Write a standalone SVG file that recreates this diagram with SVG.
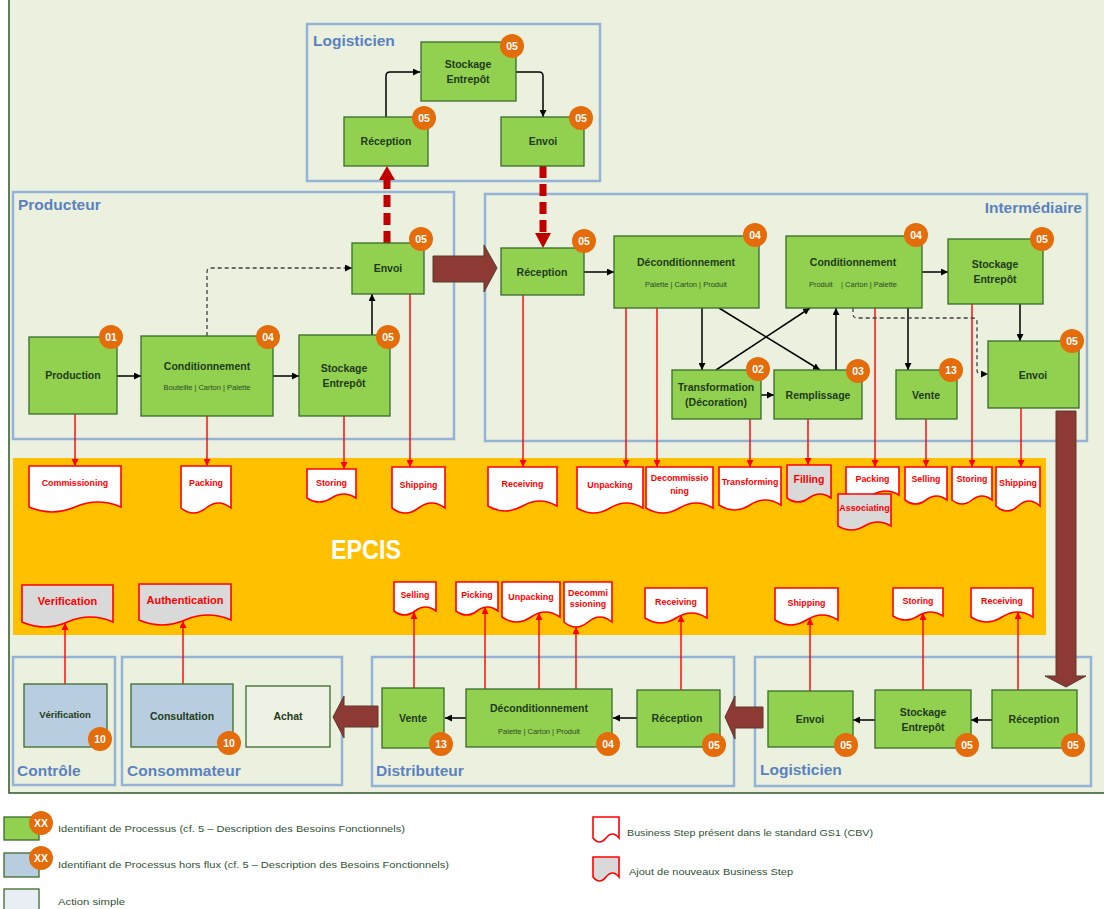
<svg xmlns="http://www.w3.org/2000/svg" width="1104" height="909" viewBox="0 0 1104 909">
<style>
.bg{fill:#EBF1DE;stroke:#2F5427;stroke-width:1.5}
.lane{fill:none;stroke:#95B3D7;stroke-width:2.5}
.lt{font-family:'Liberation Sans',Arial,sans-serif;font-weight:bold;font-size:15.5px;fill:#5B82BF}
.n{fill:#92D050;stroke:#3B6A2B;stroke-width:1.3}
.nb{fill:#B9CDE0;stroke:#3B6A2B;stroke-width:1.3}
.na{fill:#EDF2E4;stroke:#3B6A2B;stroke-width:1.3}
.t{font-family:'Liberation Sans',Arial,sans-serif;font-weight:bold;font-size:10.5px;fill:#1F3B18;text-anchor:middle}
.s{font-family:'Liberation Sans',Arial,sans-serif;font-size:7.5px;fill:#2C4A23;text-anchor:middle}
.bc{fill:#E46C0A}
.bt{font-family:'Liberation Sans',Arial,sans-serif;font-weight:bold;font-size:10.5px;fill:#fff;text-anchor:middle}
.doc{fill:#fff;stroke:#FF0000;stroke-width:1.6}
.docg{fill:#D9D9D9;stroke:#FF0000;stroke-width:1.6}
.dt{font-family:'Liberation Sans',Arial,sans-serif;font-weight:bold;font-size:8.9px;fill:#FF0000;text-anchor:middle}
.ar{stroke:#000;stroke-width:1.5;fill:none;marker-end:url(#ah)}
.ad{stroke:#404040;stroke-width:1.3;fill:none;stroke-dasharray:4 3;marker-end:url(#ah)}
.rl{stroke:#FF0000;stroke-width:1.4;fill:none;marker-end:url(#ra)}
.rd{stroke:#C00000;stroke-width:7;stroke-dasharray:12 6;fill:none}
.rh{fill:#C00000}
.br{fill:#8E3A34;stroke:#5A3A2C;stroke-width:1}
.lg{font-family:'Liberation Sans',Arial,sans-serif;font-size:9.5px;fill:#2F5233}
</style>
<defs>
<marker id="ah" viewBox="0 0 10 10" refX="10" refY="5" markerWidth="7" markerHeight="7" markerUnits="userSpaceOnUse" orient="auto"><path d="M0,0 L10,5 L0,10 z" fill="#000"/></marker>
<marker id="ra" viewBox="0 0 10 10" refX="10" refY="5" markerWidth="7" markerHeight="7" markerUnits="userSpaceOnUse" orient="auto"><path d="M0,0 L10,5 L0,10 z" fill="#FF0000"/></marker>
</defs>
<rect x="0" y="0" width="1104" height="909" fill="#fff"/>
<rect class="bg" x="9" y="-2" width="1100" height="795"/>

<g id="lanes">
<rect class="lane" x="307" y="24" width="293" height="157"/>
<text class="lt" x="313" y="46">Logisticien</text>
<rect class="lane" x="13" y="192" width="441" height="247"/>
<text class="lt" x="18" y="210">Producteur</text>
<rect class="lane" x="485" y="194" width="602" height="247"/>
<text class="lt" x="1082" y="213" text-anchor="end">Intermédiaire</text>
<rect class="lane" x="13" y="657" width="102" height="128"/>
<text class="lt" x="17" y="776">Contrôle</text>
<rect class="lane" x="122" y="657" width="220" height="128"/>
<text class="lt" x="127" y="776">Consommateur</text>
<rect class="lane" x="372" y="657" width="362" height="129"/>
<text class="lt" x="376" y="776">Distributeur</text>
<rect class="lane" x="755" y="657" width="336" height="129"/>
<text class="lt" x="760" y="775">Logisticien</text>
</g>

<g id="epcis">
<rect x="13" y="458" width="1033" height="177" fill="#FFC000"/>
<text x="366" y="559" font-family="'Liberation Sans',Arial,sans-serif" font-weight="bold" font-size="27" fill="#fff" text-anchor="middle" textLength="70" lengthAdjust="spacingAndGlyphs">EPCIS</text>
</g>

<g id="business-steps">
<path class="doc" d="M29,466 H121 V507 Q98,497 75,507 T29,507 Z"/><text class="dt" x="75" y="486">Commissioning</text>
<path class="doc" d="M181,466 H231 V508 Q218.5,498 206,508 T181,508 Z"/><text class="dt" x="206" y="486">Packing</text>
<path class="doc" d="M307,469 H356 V498 Q343.75,490 331.5,498 T307,498 Z"/><text class="dt" x="331.5" y="486">Storing</text>
<path class="doc" d="M392,467 H445 V508 Q431.75,498 418.5,508 T392,508 Z"/><text class="dt" x="418.5" y="488">Shipping</text>
<path class="doc" d="M488,467 H557 V506 Q539.75,496 522.5,506 T488,506 Z"/><text class="dt" x="522.5" y="487">Receiving</text>
<path class="doc" d="M577,467 H643 V508 Q626.5,498 610,508 T577,508 Z"/><text class="dt" x="610" y="488">Unpacking</text>
<path class="doc" d="M646,467 H713 V508 Q696.25,498 679.5,508 T646,508 Z"/><text class="dt" x="679.5" y="481">Decommissio</text><text class="dt" x="679.5" y="494">ning</text>
<path class="doc" d="M719,467 H781 V505 Q765.5,495 750,505 T719,505 Z"/><text class="dt" x="750" y="485">Transforming</text>
<path class="docg" d="M787,465 H831 V498 Q820,490 809,498 T787,498 Z"/><text class="dt" x="809" y="483" style="font-size:10.5px">Filling</text>
<path class="doc" d="M846,467 H899 V495 Q885.75,487 872.5,495 T846,495 Z"/><text class="dt" x="872.5" y="482">Packing</text>
<path class="docg" d="M838,494 H891 V526 Q877.75,518 864.5,526 T838,526 Z"/><text class="dt" x="864.5" y="511">Associating</text>
<path class="doc" d="M905,467 H947 V500 Q936.5,492 926,500 T905,500 Z"/><text class="dt" x="926" y="482">Selling</text>
<path class="doc" d="M952,467 H992 V500 Q982,492 972,500 T952,500 Z"/><text class="dt" x="972" y="482">Storing</text>
<path class="doc" d="M996,467 H1040 V506 Q1029,496 1018,506 T996,506 Z"/><text class="dt" x="1018" y="486">Shipping</text>

<path class="docg" d="M22,585 H113 V622 Q90.25,612 67.5,622 T22,622 Z"/><text class="dt" x="67.5" y="605" style="font-size:11px">Verification</text>
<path class="docg" d="M139,584 H231 V620 Q208,610 185,620 T139,620 Z"/><text class="dt" x="185" y="604" style="font-size:11px">Authentication</text>
<path class="doc" d="M394,582 H436 V611 Q425.5,603 415,611 T394,611 Z"/><text class="dt" x="415" y="598">Selling</text>
<path class="doc" d="M456,582 H498 V611 Q487.5,603 477,611 T456,611 Z"/><text class="dt" x="477" y="598">Picking</text>
<path class="doc" d="M502,582 H560 V617 Q545.5,607 531,617 T502,617 Z"/><text class="dt" x="531" y="600">Unpacking</text>
<path class="doc" d="M564,582 H612 V622 Q600,612 588,622 T564,622 Z"/><text class="dt" x="588" y="596">Decommi</text><text class="dt" x="588" y="607">ssioning</text>
<path class="doc" d="M645,588 H707 V618 Q691.5,608 676,618 T645,618 Z"/><text class="dt" x="676" y="605">Receiving</text>
<path class="doc" d="M775,588 H838 V620 Q822.25,610 806.5,620 T775,620 Z"/><text class="dt" x="806.5" y="606">Shipping</text>
<path class="doc" d="M893,588 H943 V616 Q930.5,608 918,616 T893,616 Z"/><text class="dt" x="918" y="604">Storing</text>
<path class="doc" d="M971,588 H1033 V617 Q1017.5,607 1002,617 T971,617 Z"/><text class="dt" x="1002" y="604">Receiving</text>
</g>

<g id="connectors">
<path class="rl" d="M75,414 V466"/>
<path class="rl" d="M207,416 V466"/>
<path class="rl" d="M344,416 V469"/>
<path class="rl" d="M410,294 V467"/>
<path class="rl" d="M523,295 V467"/>
<path class="rl" d="M626,308 V467"/>
<path class="rl" d="M657,308 V467"/>
<path class="rl" d="M750,419 V467"/>
<path class="rl" d="M808,419 V465"/>
<path class="rl" d="M875,308 V467"/>
<path class="rl" d="M926,419 V467"/>
<path class="rl" d="M972,304 V467"/>
<path class="rl" d="M1021,408 V467"/>
<path class="rl" d="M65,684 V623"/>
<path class="rl" d="M183,684 V621"/>
<path class="rl" d="M414,688 V612"/>
<path class="rl" d="M485,689 V607"/>
<path class="rl" d="M539,689 V613"/>
<path class="rl" d="M576,689 V627"/>
<path class="rl" d="M681,690 V615"/>
<path class="rl" d="M810,691 V618"/>
<path class="rl" d="M923,690 V613"/>
<path class="rl" d="M1018,690 V612"/>

<path class="ar" d="M386,117 V76 Q386,72 390,72 H420"/>
<path class="ar" d="M515,72 H539 Q543,72 543,76 V117"/>
<path class="ar" d="M117,376 H141"/>
<path class="ar" d="M273,376 H299"/>
<path class="ar" d="M372,335 V294"/>
<path class="ad" d="M207,336 V272 Q207,268 211,268 H352"/>
<path class="ar" d="M584,272 H614"/>
<path class="ar" d="M702,308 V370"/>
<path class="ar" d="M719,308 L820,370"/>
<path class="ar" d="M716,370 L810,308"/>
<path class="ar" d="M761,395 H774"/>
<path class="ar" d="M836,370 V308"/>
<path class="ar" d="M921,272 H948"/>
<path class="ar" d="M908,308 V370"/>
<path class="ar" d="M1020,304 V341"/>
<path class="ad" d="M853,308 V314 Q853,318 857,318 H973 Q977,318 977,322 V370 Q977,374 981,374 H988"/>
<path class="ar" d="M466,718 H445"/>
<path class="ar" d="M637,718 H613"/>
<path class="ar" d="M875,720 H853"/>
<path class="ar" d="M992,720 H971"/>

<path class="rd" d="M387,243 V180"/>
<polygon class="rh" points="379,180 395,180 387,166"/>
<path class="rd" d="M543,166 V233"/>
<polygon class="rh" points="535,233 551,233 543,248"/>

<polygon class="br" points="433,256 484,256 484,245 497,268 484,292 484,282 433,282"/>
<polygon class="br" points="1056,411 1076,411 1076,676 1086,676 1066,687 1045,676 1056,676"/>
<polygon class="br" points="378,706 344,706 344,696 333,717 344,738 344,727 378,727"/>
<polygon class="br" points="763,707 735,707 735,696 725,717 735,739 735,728 763,728"/>
</g>

<g id="log-stockage"><rect class="n" x="421" y="42" width="95" height="59"/><text class="t" x="468" y="68">Stockage</text><text class="t" x="468" y="83">Entrepôt</text><circle class="bc" cx="512" cy="46" r="12"/><text class="bt" x="512" y="50">05</text></g>
<g id="log-reception"><rect class="n" x="344" y="117" width="84" height="49"/><text class="t" x="386" y="145">Réception</text><circle class="bc" cx="424" cy="118" r="12"/><text class="bt" x="424" y="122">05</text></g>
<g id="log-envoi"><rect class="n" x="501" y="117" width="83" height="49"/><text class="t" x="543" y="145">Envoi</text><circle class="bc" cx="581" cy="118" r="12"/><text class="bt" x="581" y="122">05</text></g>

<g id="prod-production"><rect class="n" x="29" y="337" width="88" height="77"/><text class="t" x="73" y="379">Production</text><circle class="bc" cx="111" cy="337" r="12"/><text class="bt" x="111" y="341">01</text></g>
<g id="prod-conditionnement"><rect class="n" x="141" y="336" width="132" height="80"/><text class="t" x="207" y="370">Conditionnement</text><text class="s" x="207" y="390">Bouteille | Carton | Palette</text><circle class="bc" cx="268" cy="337" r="12"/><text class="bt" x="268" y="341">04</text></g>
<g id="prod-stockage"><rect class="n" x="299" y="335" width="91" height="81"/><text class="t" x="344" y="372">Stockage</text><text class="t" x="344" y="387">Entrepôt</text><circle class="bc" cx="388" cy="337" r="12"/><text class="bt" x="388" y="341">05</text></g>
<g id="prod-envoi"><rect class="n" x="352" y="243" width="72" height="51"/><text class="t" x="388" y="272">Envoi</text><circle class="bc" cx="421" cy="239" r="12"/><text class="bt" x="421" y="243">05</text></g>

<g id="int-reception"><rect class="n" x="501" y="248" width="83" height="47"/><text class="t" x="542" y="276">Réception</text><circle class="bc" cx="584" cy="241" r="12"/><text class="bt" x="584" y="245">05</text></g>
<g id="int-deconditionnement"><rect class="n" x="614" y="236" width="145" height="72"/><text class="t" x="686" y="266">Déconditionnement</text><text class="s" x="686" y="287">Palette | Carton | Produit</text><circle class="bc" cx="755" cy="235" r="12"/><text class="bt" x="755" y="239">04</text></g>
<g id="int-conditionnement"><rect class="n" x="786" y="236" width="136" height="72"/><text class="t" x="853" y="266">Conditionnement</text><text class="s" x="853" y="287" xml:space="preserve">Produit    | Carton | Palette</text><circle class="bc" cx="916" cy="235" r="12"/><text class="bt" x="916" y="239">04</text></g>
<g id="int-stockage"><rect class="n" x="948" y="239" width="95" height="65"/><text class="t" x="995" y="268">Stockage</text><text class="t" x="995" y="283">Entrepôt</text><circle class="bc" cx="1042" cy="239" r="12"/><text class="bt" x="1042" y="243">05</text></g>
<g id="int-envoi"><rect class="n" x="988" y="341" width="91" height="67"/><text class="t" x="1033" y="379">Envoi</text><circle class="bc" cx="1072" cy="341" r="12"/><text class="bt" x="1072" y="345">05</text></g>
<g id="int-transformation"><rect class="n" x="672" y="370" width="89" height="49"/><text class="t" x="716" y="391">Transformation</text><text class="t" x="716" y="406">(Décoration)</text><circle class="bc" cx="758" cy="369" r="12"/><text class="bt" x="758" y="373">02</text></g>
<g id="int-remplissage"><rect class="n" x="774" y="370" width="88" height="49"/><text class="t" x="818" y="399">Remplissage</text><circle class="bc" cx="858" cy="371" r="12"/><text class="bt" x="858" y="375">03</text></g>
<g id="int-vente"><rect class="n" x="896" y="370" width="61" height="49"/><text class="t" x="926" y="399">Vente</text><circle class="bc" cx="951" cy="370" r="12"/><text class="bt" x="951" y="374">13</text></g>

<g id="ctl-verification"><rect class="nb" x="24" y="684" width="83" height="63"/><text class="t" x="65" y="718" style="font-size:9.5px">Vérification</text><circle class="bc" cx="100" cy="739" r="12"/><text class="bt" x="100" y="743">10</text></g>
<g id="cons-consultation"><rect class="nb" x="131" y="684" width="102" height="63"/><text class="t" x="182" y="720">Consultation</text><circle class="bc" cx="229" cy="743" r="12"/><text class="bt" x="229" y="747">10</text></g>
<g id="cons-achat"><rect class="na" x="246" y="686" width="84" height="61"/><text class="t" x="288" y="720">Achat</text></g>
<g id="dist-vente"><rect class="n" x="382" y="688" width="62" height="60"/><text class="t" x="413" y="722">Vente</text><circle class="bc" cx="441" cy="744" r="12"/><text class="bt" x="441" y="748">13</text></g>
<g id="dist-deconditionnement"><rect class="n" x="466" y="689" width="146" height="58"/><text class="t" x="539" y="712">Déconditionnement</text><text class="s" x="539" y="734">Palette | Carton | Produit</text><circle class="bc" cx="608" cy="744" r="12"/><text class="bt" x="608" y="748">04</text></g>
<g id="dist-reception"><rect class="n" x="637" y="690" width="83" height="57"/><text class="t" x="677" y="722">Réception</text><circle class="bc" cx="714" cy="745" r="12"/><text class="bt" x="714" y="749">05</text></g>
<g id="log2-envoi"><rect class="n" x="768" y="691" width="85" height="56"/><text class="t" x="810" y="723">Envoi</text><circle class="bc" cx="846" cy="745" r="12"/><text class="bt" x="846" y="749">05</text></g>
<g id="log2-stockage"><rect class="n" x="875" y="690" width="96" height="58"/><text class="t" x="923" y="716">Stockage</text><text class="t" x="923" y="731">Entrepôt</text><circle class="bc" cx="967" cy="745" r="12"/><text class="bt" x="967" y="749">05</text></g>
<g id="log2-reception"><rect class="n" x="992" y="690" width="85" height="58"/><text class="t" x="1034" y="723">Réception</text><circle class="bc" cx="1073" cy="745" r="12"/><text class="bt" x="1073" y="749">05</text></g>

<g id="legend">
<rect class="n" x="4" y="817" width="35" height="23"/><circle class="bc" cx="41" cy="823" r="12"/><text class="bt" x="41" y="827">XX</text>
<text class="lg" x="58" y="832" textLength="347" lengthAdjust="spacingAndGlyphs">Identifiant de Processus (cf. 5 – Description des Besoins Fonctionnels)</text>
<rect class="nb" x="4" y="853" width="35" height="24"/><circle class="bc" cx="41" cy="858" r="12"/><text class="bt" x="41" y="862">XX</text>
<text class="lg" x="58" y="868" textLength="391" lengthAdjust="spacingAndGlyphs">Identifiant de Processus hors flux (cf. 5 – Description des Besoins Fonctionnels)</text>
<rect x="4" y="889" width="35" height="24" fill="#E9EEF5" stroke="#3B6A2B" stroke-width="1.3"/>
<text class="lg" x="58" y="905" textLength="67" lengthAdjust="spacingAndGlyphs">Action simple</text>
<path class="doc" d="M593,817 H619 V838 Q612.5,830 606,838 T593,838 Z"/>
<text class="lg" x="627" y="836" textLength="246" lengthAdjust="spacingAndGlyphs">Business Step présent dans le standard GS1 (CBV)</text>
<path class="docg" d="M593,857 H619 V877 Q612.5,869 606,877 T593,877 Z"/>
<text class="lg" x="629" y="875" textLength="164" lengthAdjust="spacingAndGlyphs">Ajout de nouveaux Business Step</text>
</g>
</svg>
